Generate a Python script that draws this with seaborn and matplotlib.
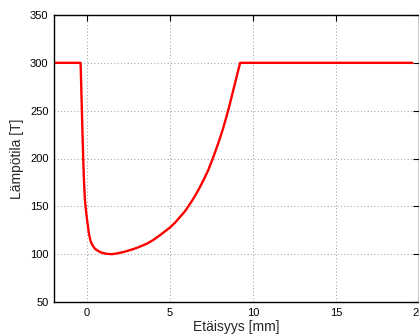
import matplotlib
matplotlib.use("Agg")
import matplotlib.pyplot as plt
import seaborn as sns
import pandas as pd

# Temperature profile along the distance axis
distance_mm = [-2.0, -0.4, -0.38, -0.35, -0.32, -0.28, -0.24, -0.19, -0.14, -0.1,
               -0.05, 0.0, 0.1, 0.2, 0.3, 0.45, 0.6, 0.8, 1.0, 1.2, 1.5, 1.8,
               2.2, 2.6, 2.9, 3.2, 3.6, 4.0, 4.4, 4.7, 5.0, 5.3, 5.6, 5.9, 6.1,
               6.4, 6.7, 7.0, 7.3, 7.57, 7.8, 8.0, 8.2, 8.4, 8.6, 8.8, 9.0,
               9.22, 19.6]
temperature = [300, 300, 290, 270, 250, 225, 200, 175, 158, 150,
               142, 135, 122, 114, 110, 106, 104, 102, 101, 100.3, 100, 100.8,
               102.3, 104.3, 106, 108, 111, 115, 120, 124, 128, 133, 139, 145, 150,
               158, 167, 177, 188, 200, 211, 221, 232, 244, 257, 271, 285,
               300, 300]

x_ticks = [0, 5, 10, 15, 20]
y_ticks = [50, 100, 150, 200, 250, 300, 350]

df = pd.DataFrame({"x": distance_mm, "y": temperature})

sns.set_theme(style="white")
plt.rcParams["font.family"] = ["Liberation Sans", "DejaVu Sans"]

fig = plt.figure(figsize=(4.19, 3.34), dpi=100)
ax = fig.add_axes([54 / 419, 1 - 302 / 334, 1 - 54 / 419, (302 - 15) / 334])

sns.lineplot(data=df, x="x", y="y", sort=False, estimator=None,
             color="#ff0000", linewidth=1.7, ax=ax)
ax.lines[0].set_solid_joinstyle("round")

ax.set_xlim(-2, 20)
ax.set_ylim(50, 350)
ax.set_xticks(x_ticks)
ax.set_yticks(y_ticks)
ax.grid(True, linestyle=(0, (1, 3)), color="#777777", linewidth=0.6)
ax.tick_params(direction="in", length=4, width=0.8, top=True, right=True,
               labelsize=8, colors="black", pad=4)
for s in ax.spines.values():
    s.set_color("black")
    s.set_linewidth(1.0)
    s.set_visible(True)

ax.set_xlabel("Etäisyys [mm]", fontsize=10, labelpad=2)
ax.set_ylabel("Lämpötila [T]", fontsize=10, labelpad=4)

fig.savefig("out.png", dpi=100)
